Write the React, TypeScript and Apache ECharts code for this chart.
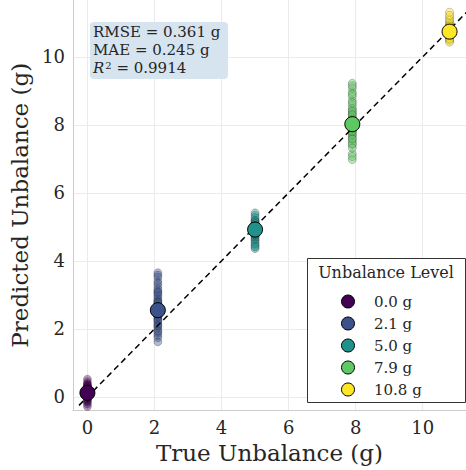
import React, { useEffect, useRef } from "react";
import * as echarts from "echarts";

const levels = [0.0, 2.1, 5.0, 7.9, 10.8];
const levelNames = ["0.0 g", "2.1 g", "5.0 g", "7.9 g", "10.8 g"];
const levelColors = ["#440154", "#3b528b", "#21918c", "#5ec962", "#fde725"];
const levelColorsAlpha = [
  "rgba(68,1,84,0.5)",
  "rgba(59,82,139,0.5)",
  "rgba(33,145,140,0.5)",
  "rgba(94,201,98,0.5)",
  "rgba(253,231,37,0.5)",
];

const pred00 = [0.12, -0.05, 0.25, 0.08, 0.31, -0.12, 0.18, 0.02, 0.44, 0.15, -0.21, 0.09, 0.27, 0.05, 0.36, -0.02, 0.19, 0.11, 0.52, -0.08, 0.22, 0.04, 0.14, -0.15, 0.29, 0.07, 0.17, 0.01, 0.38, -0.28, 0.1, 0.21, 0.06, 0.33, 0.13, -0.01, 0.24, 0.16];
const pred21 = [2.55, 2.31, 2.82, 1.98, 3.12, 2.44, 2.67, 1.74, 3.41, 2.19, 2.93, 2.58, 2.05, 3.27, 2.72, 1.62, 2.38, 3.65, 2.49, 2.86, 2.13, 3.04, 2.61, 1.88, 3.52, 2.27, 2.76, 2.41, 3.18, 2.66, 2.52, 2.35, 2.98, 2.24, 3.34, 2.09, 2.79, 1.81, 3.08, 2.47, 2.63, 3.58, 1.93];
const pred50 = [4.92, 4.75, 5.08, 4.61, 5.21, 4.88, 4.99, 4.45, 5.34, 4.83, 5.02, 4.69, 5.13, 4.95, 4.36, 5.41, 4.79, 5.06, 4.91, 4.55, 5.18, 4.86, 4.97, 4.72, 5.27, 4.9, 4.81, 5.01, 4.64, 5.1, 4.94, 4.5, 5.15, 4.77, 5.04, 4.41, 4.85];
const pred79 = [8.02, 7.68, 8.35, 7.41, 8.71, 7.89, 8.18, 7.15, 8.96, 7.77, 8.44, 7.95, 8.27, 7.52, 9.22, 7.98, 8.58, 7.32, 8.1, 7.84, 8.83, 6.98, 8.06, 7.61, 8.49, 7.91, 9.08, 7.72, 8.21, 8.0, 8.14, 7.88, 8.65, 7.45, 8.39, 7.07, 8.9, 7.8, 8.3, 9.15, 7.58, 8.05];
const pred108 = [10.74, 10.62, 10.88, 10.55, 11.02, 10.7, 10.81, 10.48, 11.15, 10.66, 10.93, 10.77, 10.59, 11.31, 10.72, 10.85, 10.43, 10.97, 10.69, 10.79, 10.73, 11.08, 10.64, 10.9, 11.22, 10.52];
const predictions = [pred00, pred21, pred50, pred79, pred108];
const predMeans = [0.12, 2.55, 4.92, 8.02, 10.74];

const idealLine = [-0.25, 11.45];

const xMin = -0.43;
const xMax = 11.29;
const yMin = -0.4;
const yMax = 11.67;

const FONT = "DejaVu Serif";

export default function App() {
  const ref = useRef<HTMLDivElement>(null);
  useEffect(() => {
    if (!ref.current) return;
    const chart = echarts.init(ref.current, undefined, { renderer: "svg" });
    const pointSeries = levels.map((lv, i) => ({
      type: "scatter",
      name: "pts" + i,
      data: predictions[i].map((v) => [lv, v]),
      symbol: "circle",
      symbolSize: 8,
      z: 2,
      itemStyle: {
        color: levelColorsAlpha[i],
        borderColor: "rgba(0,0,0,0.4)",
        borderWidth: 0.7,
      },
      emphasis: { disabled: true },
    }));
    const meanSeries = levels.map((lv, i) => ({
      type: "scatter",
      name: levelNames[i],
      data: [[lv, predMeans[i]]],
      symbol: "circle",
      symbolSize: 15,
      z: 4,
      itemStyle: { color: levelColors[i], borderColor: "#000", borderWidth: 1, opacity: 1 },
      emphasis: { disabled: true },
    }));
    chart.setOption({
      animation: false,
      textStyle: { fontFamily: FONT },
      grid: { left: 73, right: 0, top: 0, bottom: 59.5, containLabel: false },
      xAxis: {
        type: "value",
        min: xMin,
        max: xMax,
        name: "True Unbalance (g)",
        nameLocation: "middle",
        nameGap: 27,
        nameTextStyle: { fontSize: 23, color: "#262626", fontFamily: FONT },
        axisLine: { show: true, onZero: false, lineStyle: { color: "#cccccc", width: 1 } },
        axisTick: { show: false },
        axisLabel: {
          showMinLabel: false,
          showMaxLabel: false,
          fontSize: 18,
          color: "#262626",
          margin: 8,
          fontFamily: FONT,
        },
        splitLine: {
          show: true,
          showMinLine: false,
          showMaxLine: false,
          lineStyle: { color: "#ebebeb", width: 1 },
        },
      },
      yAxis: {
        type: "value",
        min: yMin,
        max: yMax,
        name: "Predicted Unbalance (g)",
        nameLocation: "middle",
        nameGap: 40,
        nameTextStyle: { fontSize: 23, color: "#262626", fontFamily: FONT },
        axisLine: { show: true, onZero: false, lineStyle: { color: "#cccccc", width: 1 } },
        axisTick: { show: false },
        axisLabel: {
          showMinLabel: false,
          showMaxLabel: false,
          fontSize: 18,
          color: "#262626",
          margin: 8,
          fontFamily: FONT,
        },
        splitLine: {
          show: true,
          showMinLine: false,
          showMaxLine: false,
          lineStyle: { color: "#ebebeb", width: 1 },
        },
      },
      legend: {
        data: levelNames,
        orient: "vertical",
        left: 336,
        top: 289,
        icon: "circle",
        itemWidth: 42,
        itemHeight: 13,
        itemGap: 7,
        z: 20,
        itemStyle: { borderColor: "#000", borderWidth: 1, opacity: 1 },
        textStyle: { fontSize: 15, color: "#262626", fontFamily: FONT, padding: [0, 0, 0, 0] },
        selectedMode: false,
      },
      graphic: [
        {
          type: "rect",
          z: 15,
          shape: { x: 307.5, y: 258.5, width: 158, height: 144 },
          style: { fill: "rgba(255,255,255,0.95)", stroke: "#333", lineWidth: 1 },
        },
        {
          type: "text",
          z: 21,
          x: 386,
          y: 272,
          style: {
            text: "Unbalance Level",
            fontSize: 16,
            fontFamily: FONT,
            fill: "#262626",
            align: "center",
            verticalAlign: "middle",
          },
        },
        {
          type: "rect",
          z: 15,
          shape: { x: 90, y: 22, width: 138, height: 57, r: 4 },
          style: { fill: "#d6e4f0", stroke: "none" },
        },
        {
          type: "text",
          z: 21,
          x: 93,
          y: 32,
          style: {
            text: "RMSE = 0.361 g",
            fontSize: 15,
            fontFamily: FONT,
            fill: "#262626",
            align: "left",
            verticalAlign: "middle",
          },
        },
        {
          type: "text",
          z: 21,
          x: 93,
          y: 50,
          style: {
            text: "MAE = 0.245 g",
            fontSize: 15,
            fontFamily: FONT,
            fill: "#262626",
            align: "left",
            verticalAlign: "middle",
          },
        },
        {
          type: "text",
          z: 21,
          x: 93,
          y: 68,
          style: {
            text: "{i|R}{s|2} = 0.9914",
            fontSize: 15,
            fontFamily: FONT,
            fill: "#262626",
            align: "left",
            verticalAlign: "middle",
            rich: {
              i: { fontStyle: "italic", fontSize: 15, fontFamily: FONT, fill: "#262626" },
              s: { fontSize: 10, fontFamily: FONT, fill: "#262626", verticalAlign: "top", padding: [0, 0, 6, 1] },
            },
          },
        },
      ],
      series: [
        ...pointSeries,
        {
          type: "line",
          name: "ideal",
          data: idealLine.map((v) => [v, v]),
          symbol: "none",
          z: 3,
          lineStyle: { color: "#000", width: 1.5, type: [6, 4] },
          emphasis: { disabled: true },
        },
        ...meanSeries,
      ],
    });
    return () => chart.dispose();
  }, []);
  return (
    <div
      ref={ref}
      style={{ position: "absolute", left: 0, top: 0, width: 466, height: 470, background: "#fff" }}
    />
  );
}
